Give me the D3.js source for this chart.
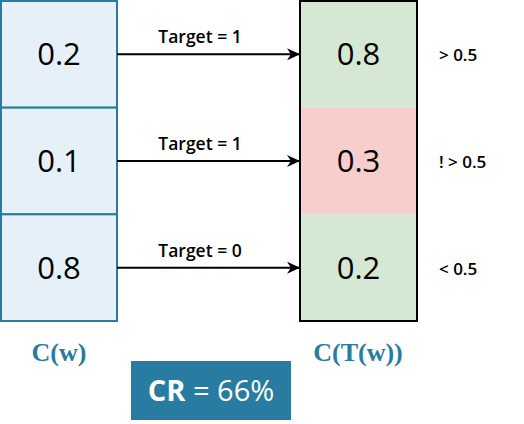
<!DOCTYPE html>
<html>
<head>
<meta charset="utf-8">
<script src="https://cdn.jsdelivr.net/npm/d3@7"></script>
<style>
  body { margin: 0; background: #fff; }
  text { font-family: "Open Sans", sans-serif; }
</style>
</head>
<body>
<svg id="chart" width="524" height="424"></svg>
<script>
// data
var inputs = [0.2, 0.1, 0.8],
    outputs = [0.8, 0.3, 0.2],
    targets = [1, 1, 0],
    conditions = ['> 0.5', '! > 0.5', '< 0.5'],
    correct = [true, false, true],
    crValue = '66%';

var svg = d3.select('#chart'),
    rows = d3.range(inputs.length);

// vertical band for the three rows
var y = d3.scaleBand()
    .domain(rows)
    .range([1, 321]);

var leftX = 1, rightX = 300, boxW = 116;

svg.append('defs').append('marker')
    .attr('id', 'arrow')
    .attr('viewBox', '0 0 10 10')
    .attr('refX', 10).attr('refY', 5)
    .attr('markerWidth', 13).attr('markerHeight', 12)
    .attr('markerUnits', 'userSpaceOnUse')
    .attr('orient', 'auto')
    .attr('preserveAspectRatio', 'none')
  .append('path')
    .attr('d', 'M0,0 L10,5 L0,10 L3,5 Z')
    .attr('fill', '#000');

// left column C(w)
var left = svg.append('g');
left.selectAll('rect')
    .data(inputs)
  .enter().append('rect')
    .attr('x', leftX)
    .attr('y', function(d, i) { return y(i); })
    .attr('width', boxW)
    .attr('height', y.bandwidth())
    .attr('fill', '#e6f0f8')
    .attr('stroke', '#2a7ba0')
    .attr('stroke-width', 2);
left.selectAll('text')
    .data(inputs)
  .enter().append('text')
    .attr('x', leftX + boxW / 2)
    .attr('y', function(d, i) { return y(i) + y.bandwidth() / 2; })
    .attr('dy', '0.36em')
    .attr('text-anchor', 'middle')
    .attr('font-size', 31)
    .attr('fill', '#000')
    .text(function(d) { return d; });

// right column C(T(w))
var right = svg.append('g');
right.selectAll('rect')
    .data(outputs)
  .enter().append('rect')
    .attr('x', rightX)
    .attr('y', function(d, i) { return y(i); })
    .attr('width', boxW + 1)
    .attr('height', y.bandwidth())
    .attr('fill', function(d, i) { return correct[i] ? '#d5e8d4' : '#f8cecc'; });
right.append('rect')
    .attr('x', rightX)
    .attr('y', y.range()[0])
    .attr('width', boxW + 1)
    .attr('height', y.range()[1] - y.range()[0])
    .attr('fill', 'none')
    .attr('stroke', '#000')
    .attr('stroke-width', 2);
right.selectAll('text.val')
    .data(outputs)
  .enter().append('text')
    .attr('class', 'val')
    .attr('x', rightX + boxW / 2 + 0.5)
    .attr('y', function(d, i) { return y(i) + y.bandwidth() / 2; })
    .attr('dy', '0.36em')
    .attr('text-anchor', 'middle')
    .attr('font-size', 31)
    .attr('fill', '#000')
    .text(function(d) { return d; });

// condition labels
svg.selectAll('text.cond')
    .data(conditions)
  .enter().append('text')
    .attr('class', 'cond')
    .attr('x', 439)
    .attr('y', function(d, i) { return y(i) + y.bandwidth() / 2 + 1; })
    .attr('dy', '0.36em')
    .attr('font-size', 17)
    .attr('font-weight', 600)
    .attr('fill', '#000')
    .text(function(d) { return d; });

// arrows with target labels
var links = svg.append('g');
links.selectAll('line')
    .data(targets)
  .enter().append('line')
    .attr('x1', leftX + boxW)
    .attr('x2', rightX)
    .attr('y1', function(d, i) { return y(i) + y.bandwidth() / 2; })
    .attr('y2', function(d, i) { return y(i) + y.bandwidth() / 2; })
    .attr('stroke', '#000')
    .attr('stroke-width', 2)
    .attr('marker-end', 'url(#arrow)');
links.selectAll('text')
    .data(targets)
  .enter().append('text')
    .attr('x', 200)
    .attr('y', function(d, i) { return y(i) + y.bandwidth() / 2 - 11; })
    .attr('text-anchor', 'middle')
    .attr('font-size', 17.5)
    .attr('font-weight', 600)
    .attr('fill', '#000')
    .text(function(d) { return 'Target = ' + d; });

// column captions
svg.selectAll('text.cap')
    .data(['C(w)', 'C(T(w))'])
  .enter().append('text')
    .attr('class', 'cap')
    .attr('x', function(d, i) { return i ? rightX + boxW / 2 : leftX + boxW / 2; })
    .attr('y', 361)
    .attr('text-anchor', 'middle')
    .style('font-family', '"Liberation Serif", "DejaVu Serif", serif')
    .attr('font-size', 26)
    .attr('font-weight', 'bold')
    .attr('fill', '#2a7ba0')
    .text(function(d) { return d; });

// CR box
svg.append('rect')
    .attr('x', 131).attr('y', 361)
    .attr('width', 160).attr('height', 59)
    .attr('fill', '#287ca1');
var cr = svg.append('text')
    .attr('x', 211).attr('y', 391)
    .attr('dy', '0.36em')
    .attr('text-anchor', 'middle')
    .attr('font-size', 29)
    .attr('fill', '#fff');
cr.append('tspan').attr('font-weight', 'bold').text('CR');
cr.append('tspan').text(' = ' + crValue);
</script>
</body>
</html>
